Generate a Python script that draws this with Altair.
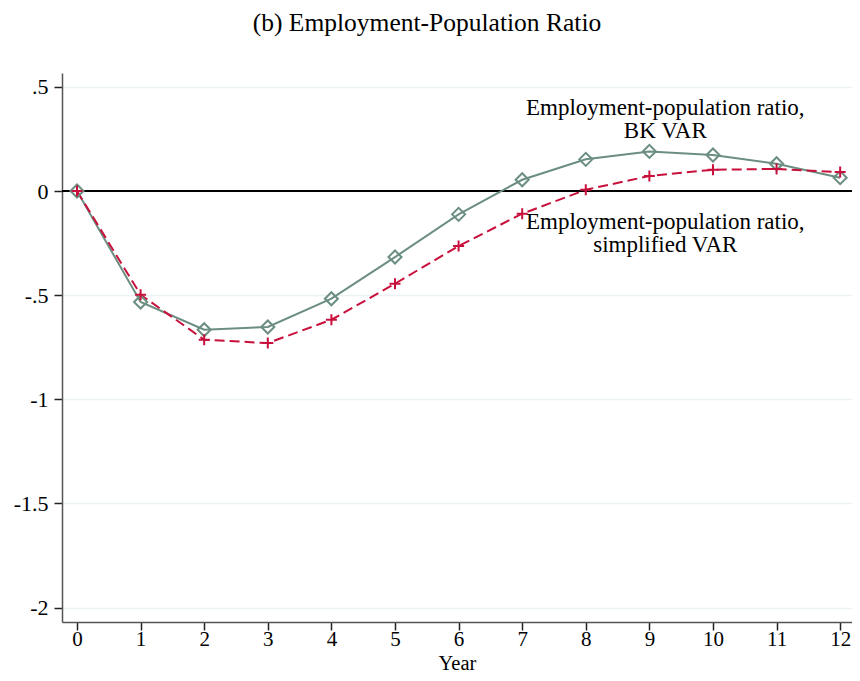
import altair as alt
import pandas as pd

# ---- data ----
years = list(range(13))
bk_var = [0.0, -0.533, -0.666, -0.653, -0.517, -0.317, -0.112, 0.054, 0.152, 0.190, 0.173, 0.131, 0.064]
simplified_var = [0.0, -0.498, -0.714, -0.730, -0.618, -0.445, -0.264, -0.109, 0.006, 0.072, 0.102, 0.106, 0.091]

y_ticks = [0.5, 0, -0.5, -1, -1.5, -2]
y_tick_labels = [".5", "0", "-.5", "-1", "-1.5", "-2"]
x_ticks = years

annot_text = [["Employment-population ratio,", "BK VAR"],
              ["Employment-population ratio,", "simplified VAR"]]
annot_x = [9.25, 9.25]
annot_y = [0.363, -0.184]

title_text = "(b) Employment-Population Ratio"
x_title = "Year"

FONT = "Liberation Serif"
GREEN = "#6b8e80"
RED = "#c8103c"

bk_df = pd.DataFrame({"year": years, "value": bk_var})
sv_df = pd.DataFrame({"year": years, "value": simplified_var})
ann_df = pd.DataFrame({"x": annot_x, "y": annot_y, "label": ["\n".join(t) for t in annot_text]})

expr = "''"
for v, l in zip(reversed(y_ticks), reversed(y_tick_labels)):
    expr = f"datum.value == {v} ? '{l}' : {expr}"

xscale = alt.Scale(domain=[-0.236, 12.186], nice=False, zero=False)
yscale = alt.Scale(domain=[-2.069, 0.5665], nice=False, zero=False)

AX = dict(labelFont=FONT, labelColor="#000",
          domainColor="#555", domainWidth=1.5, tickColor="#222", tickSize=8,
          tickWidth=1.5)

xenc = alt.X("year:Q", scale=xscale,
             axis=alt.Axis(values=x_ticks, title=x_title, grid=False, format="d",
                           labelPadding=-2, labelFontSize=21,
                           titleY=47, titleBaseline="alphabetic", titleFontSize=20.5,
                           titleFont=FONT, titleFontWeight="normal", titleColor="#000",
                           **AX))
yenc = alt.Y("value:Q", scale=yscale,
             axis=alt.Axis(values=y_ticks, labelExpr=expr, title=None, grid=True,
                           labelPadding=6, labelFontSize=22,
                           gridColor="#eaf2f3", gridWidth=1.5, **AX))

base_bk = alt.Chart(bk_df).encode(x=xenc, y=yenc)
base_sv = alt.Chart(sv_df).encode(x=xenc, y=yenc)

zero = alt.Chart(pd.DataFrame({"z": [0]})).mark_rule(color="#000", strokeWidth=2).encode(
    y=alt.Y("z:Q", scale=yscale))

bk_line = base_bk.mark_line(color=GREEN, strokeWidth=2)
bk_pts = base_bk.mark_point(shape="diamond", filled=False, color=GREEN, size=170,
                            strokeWidth=2, opacity=1)
sv_line = base_sv.mark_line(color=RED, strokeWidth=2, strokeDash=[10, 5])
sv_pts = base_sv.mark_point(shape="M-1,0L1,0M0,-1L0,1", filled=False, color=RED,
                            size=121, strokeWidth=2, opacity=1)

ann = alt.Chart(ann_df).mark_text(font=FONT, fontSize=23, align="center",
                                  baseline="alphabetic", lineBreak="\n",
                                  lineHeight=23, color="#000").encode(
    x=alt.X("x:Q", scale=xscale), y=alt.Y("y:Q", scale=yscale), text="label:N")

chart = alt.layer(zero, bk_line, sv_line, bk_pts, sv_pts, ann).properties(
    width=790, height=549,
    background="white",
    autosize=alt.AutoSizeParams(type="none"),
    padding={"left": 54, "top": 65, "right": 0, "bottom": 51},
    title=alt.TitleParams(title_text, font=FONT, fontSize=25.5, fontWeight="normal",
                          color="#000", anchor="middle", dx=-30, offset=17,
                          baseline="alphabetic"),
).configure_view(stroke=None)

chart.save("out.html", embed_options={"renderer": "svg", "actions": False})
